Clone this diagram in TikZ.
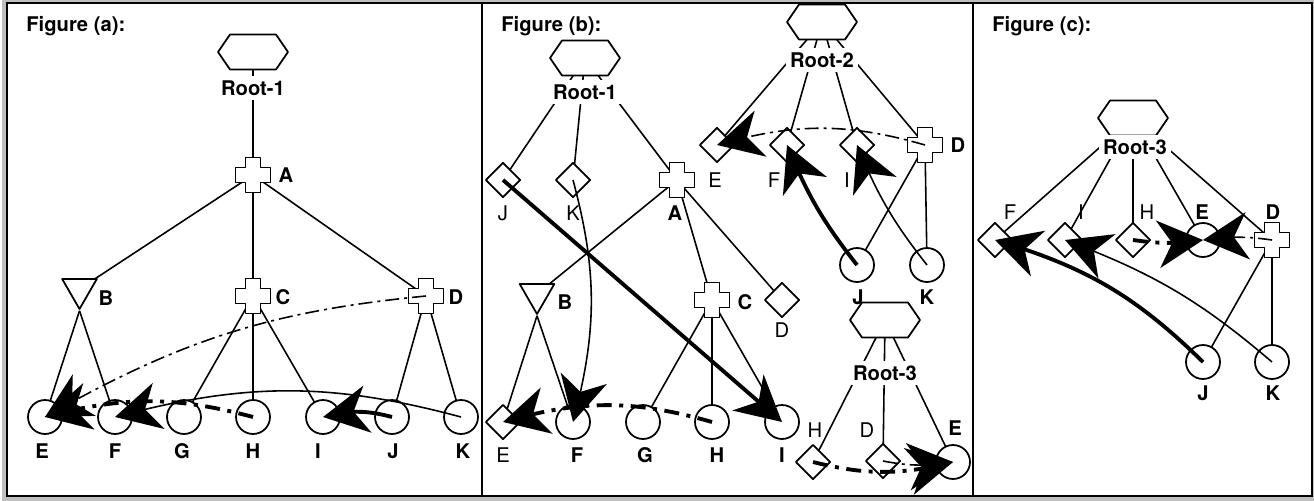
\documentclass[tikz,border=0pt]{standalone}
\usepackage{fontspec}
\setmainfont{TeX Gyre Heros}
\usetikzlibrary{shapes.geometric,arrows.meta,backgrounds,bending}
% outline of a plus sign round a node centre
\newcommand{\plusshape}[1]{\draw[fill=white, line width=1pt] ([shift={(-0.15cm,0.35cm)}]#1.center) -- ++(0.3cm,0) -- ++(0,-0.2cm) -- ++(0.2cm,0) -- ++(0,-0.3cm) -- ++(-0.2cm,0) -- ++(0,-0.2cm) -- ++(-0.3cm,0) -- ++(0,0.2cm) -- ++(-0.2cm,0) -- ++(0,0.3cm) -- ++(0.2cm,0) -- cycle;}
% outline of a flat hexagon round a node centre
\newcommand{\hexshape}[1]{\draw[fill=white, line width=1pt] ([shift={(-0.7cm,0)}]#1.center) -- ++(0.24cm,0.35cm) -- ++(0.92cm,0) -- ++(0.24cm,-0.35cm) -- ++(-0.24cm,-0.35cm) -- ++(-0.92cm,0) -- cycle;}
\begin{document}
\begin{tikzpicture}[x=0.02cm, y=-0.02cm, font=\fontsize{11.5}{13}\selectfont, line join=round,
  leaf/.style={circle, draw, fill=white, line width=1pt, minimum size=0.68cm, inner sep=0},
  gem/.style={diamond, draw, fill=white, line width=1pt, minimum size=0.7cm, inner sep=0},
  hexa/.style={rectangle, minimum width=1.4cm, minimum height=0.7cm, inner sep=0},
  tri/.style={regular polygon, regular polygon sides=3, shape border rotate=180, draw, fill=white, line width=1pt, minimum size=0.8cm, inner sep=0},
  plusnode/.style={rectangle, minimum size=0.7cm, inner sep=0},
  rootlab/.style={fill=white, inner sep=2.5pt, font=\fontsize{11.5}{13}\selectfont\bfseries},
  blab/.style={inner sep=0, font=\fontsize{11.5}{13}\selectfont\bfseries},
  lab/.style={inner sep=0},
  branch/.style={line width=0.9pt},
  bigtip/.style={-{Stealth[length=0.9cm, width=0.95cm, inset=0.28cm]}},
  thinarr/.style={bigtip, line width=0.9pt},
  thickarr/.style={bigtip, line width=2.2pt},
  thindd/.style={bigtip, line width=0.9pt, dash pattern=on 0.28cm off 0.1cm on 0.06cm off 0.1cm},
  thickdd/.style={bigtip, line width=2.2pt, dash pattern=on 0.3cm off 0.15cm on 0.08cm off 0.15cm}]
\useasboundingbox (0,0) rectangle (1314,500);

% ---------- Figure (a)
\node[blab, anchor=base west] (ta) at (26,32) {Figure (a):};
\node[hexa] (aR) at (253,52) {}; \hexshape{aR}
\node[rootlab] (aRt) at (253,88) {Root-1};
\node[plusnode] (aA) at (253,175) {}; \plusshape{aA}
\node[blab] (aAt) at (286,175) {A};
\node[tri] (aB) at (79.5,289) {};
\node[blab] (aBt) at (106,298) {B};
\node[plusnode] (aC) at (253,296) {}; \plusshape{aC}
\node[blab] (aCt) at (283,297) {C};
\node[plusnode] (aD) at (426,296) {}; \plusshape{aD}
\node[blab] (aDt) at (456,297) {D};
\foreach \n/\x/\lx in {E/45/42, F/115/115, G/184/182, H/253/253, I/323/318, J/392/393, K/461/463}{
  \node[leaf] (a\n) at (\x,417) {};
  \node[blab] (a\n t) at (\lx,451) {\n};
}

% ---------- Figure (b)
\node[blab, anchor=base west] (tb) at (501,32) {Figure (b):};
\node[hexa] (bR1) at (585,58) {}; \hexshape{bR1}
\node[rootlab] (bR1t) at (585,92) {Root-1};
\node[gem] (bJ1) at (503,180) {}; \node[lab] (bJ1t) at (503,213) {J};
\node[gem] (bK1) at (573,180) {}; \node[lab] (bK1t) at (573,213) {K};
\node[plusnode] (bA) at (677,180) {}; \plusshape{bA}
\node[blab] (bAt) at (675,213) {A};
\node[tri] (bB) at (537,294) {};
\node[blab] (bBt) at (565,302) {B};
\node[plusnode] (bC) at (712,300) {}; \plusshape{bC}
\node[blab] (bCt) at (745,302) {C};
\node[gem] (bD1) at (782,300) {}; \node[lab] (bD1t) at (782,330) {D};
\node[gem] (bE1) at (503,422) {}; \node[lab] (bE1t) at (503,455) {E};
\foreach \n/\x in {F1/573, G/643, H1/712, I1/782}{
  \node[leaf] (b\n) at (\x,422) {};
}
\node[blab] (bF1t) at (577,455) {F};
\node[blab] (bGt) at (645,455) {G};
\node[blab] (bH1t) at (717,455) {H};
\node[blab] (bI1t) at (782,455) {I};
% second tree
\node[hexa] (bR2) at (822,22) {}; \hexshape{bR2}
\node[rootlab] (bR2t) at (822,60) {Root-2};
\node[gem] (bE2) at (717,145) {}; \node[lab] (bE2t) at (715,180) {E};
\node[gem] (bF2) at (787,145) {}; \node[lab] (bF2t) at (774,180) {F};
\node[gem] (bI2) at (857,145) {}; \node[lab] (bI2t) at (847,180) {I};
\node[plusnode] (bD2) at (925,145) {}; \plusshape{bD2}
\node[blab] (bD2t) at (958,145) {D};
\node[leaf] (bJ2) at (857,265) {}; \node[blab] (bJ2t) at (858,297) {J};
\node[leaf] (bK2) at (927,265) {}; \node[blab] (bK2t) at (927,297) {K};
% third tree
\node[hexa] (bR3) at (885,320) {}; \hexshape{bR3}
\node[rootlab] (bR3t) at (885,373) {Root-3};
\node[gem] (bH3) at (813,462) {}; \node[lab] (bH3t) at (815,430) {H};
\node[gem] (bD3) at (883,461) {}; \node[lab] (bD3t) at (867,430) {D};
\node[leaf] (bE3) at (953,462) {}; \node[blab] (bE3t) at (955,428) {E};

% ---------- Figure (c)
\node[blab, anchor=base west] (tc) at (992,32) {Figure (c):};
\node[hexa] (cR) at (1133,118) {}; \hexshape{cR}
\node[rootlab] (cRt) at (1135,147) {Root-3};
\node[gem] (cF) at (995,240) {}; \node[lab] (cFt) at (1010,212) {F};
\node[gem] (cI) at (1065,240) {}; \node[lab] (cIt) at (1081,212) {I};
\node[gem] (cH) at (1133,240) {}; \node[lab] (cHt) at (1147,212) {H};
\node[leaf] (cE) at (1203,240) {}; \node[blab] (cEt) at (1202,212) {E};
\node[plusnode] (cD) at (1272,240) {}; \plusshape{cD}
\node[blab] (cDt) at (1273,212) {D};
\node[leaf] (cJ) at (1203,362) {}; \node[blab] (cJt) at (1203,393) {J};
\node[leaf] (cK) at (1272,362) {}; \node[blab] (cKt) at (1273,393) {K};

% ---------- frame and tree branches behind the nodes
\begin{scope}[on background layer]
  \draw[black!25, line width=2.5pt] (4,0) rectangle (1315,499);
  \fill[white] (7,3) rectangle (1312,496);
  \draw[line width=1.2pt] (7,3) rectangle (1312,496);
  \draw[line width=1.2pt] (482,3) -- (482,496) (973,3) -- (973,496);
  % (a)
  \draw[branch] (aR.center) -- (aA.center);
  \foreach \t in {aB,aC,aD} \draw[branch] (aA.center) -- (\t.center);
  \foreach \t in {aE,aF} \draw[branch] (aB.south) -- (\t.center);
  \foreach \t in {aG,aH,aI} \draw[branch] (aC.center) -- (\t.center);
  \foreach \t in {aJ,aK} \draw[branch] (aD.center) -- (\t.center);
  % (b)
  \foreach \t in {bJ1,bK1,bA} \draw[branch] (bR1.center) -- (\t.center);
  \foreach \t in {bB,bC,bD1} \draw[branch] (bA.center) -- (\t.center);
  \foreach \t in {bE1,bF1} \draw[branch] (bB.south) -- (\t.center);
  \foreach \t in {bG,bH1,bI1} \draw[branch] (bC.center) -- (\t.center);
  \foreach \t in {bE2,bF2,bI2,bD2} \draw[branch] (bR2.center) -- (\t.center);
  \foreach \t in {bJ2,bK2} \draw[branch] (bD2.center) -- (\t.center);
  \foreach \t in {bH3,bD3,bE3} \draw[branch] (bR3.center) -- (\t.center);
  % (c)
  \foreach \t in {cF,cI,cH,cE,cD} \draw[branch] (cR.center) -- (\t.center);
  \foreach \t in {cJ,cK} \draw[branch] (cD.center) -- (\t.center);
\end{scope}

% ---------- arrows
\draw[thindd] (aD.center) to[bend right=12] (aE.center);
\draw[thickdd] (aH.center) to[bend right=15] (aE.center);
\draw[thinarr] (aK.center) to[bend right=15] (aF.center);
\draw[thickarr] (aJ.center) to[bend right=15] (aI.center);

\draw[thickarr] (bJ1.center) -- (bI1.center);
\draw[thinarr] (bK1.center) to[bend left=15] (bF1.center);
\draw[thickdd] (bH1.center) to[bend right=16] (bE1.center);
\draw[thindd] (bD2.center) to[bend right=16] (bE2.center);
\draw[thickarr] (bJ2.center) to[bend left=8] (bF2.center);
\draw[thinarr] (bK2.center) to[bend left=8] (bI2.center);
\draw[thickdd] (bH3.center) to[bend right=14] (bE3.center);
\draw[thindd] (bD3.center) to[bend right=10] (bE3.center);

\draw[thickarr] (cJ.center) to[bend right=14] (cF.center);
\draw[thinarr] (cK.center) to[bend right=10] (cI.center);
\draw[thickdd] (cH.center) to[bend right=8] (cE.center);
\draw[thindd] (cD.center) to[bend right=8] (cE.center);
\end{tikzpicture}
\end{document}
